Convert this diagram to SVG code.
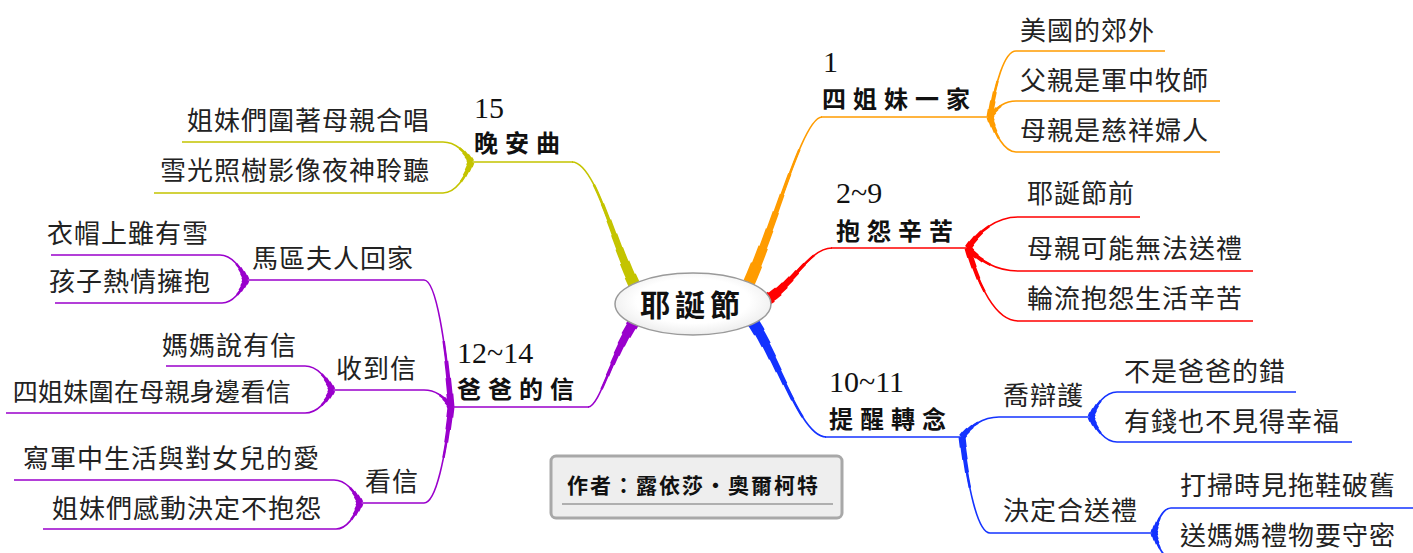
<svg xmlns="http://www.w3.org/2000/svg" xmlns:xlink="http://www.w3.org/1999/xlink" width="1413" height="553" viewBox="0 0 1413 553">
<style>
.sub{font-family:"Noto Sans CJK TC","Noto Sans CJK SC",sans-serif;font-size:26px;fill:#222;letter-spacing:1px}
.num{font-family:"Liberation Serif",serif;font-size:30px;fill:#111}
.ttl{font-family:"Noto Sans CJK TC","Noto Sans CJK SC",sans-serif;font-size:24px;font-weight:700;letter-spacing:7px;fill:#111}
.end{text-anchor:end}
.m1{stroke-width:12;stroke-dasharray:12 200}
.m2{stroke-width:10;stroke-dasharray:22 200}
.m3{stroke-width:8;stroke-dasharray:32 200}
.m4{stroke-width:6.5;stroke-dasharray:42 200}
.m5{stroke-width:5;stroke-dasharray:52 200}
.m6{stroke-width:3.5;stroke-dasharray:64 200}
.m7{stroke-width:2.5;stroke-dasharray:78 200}
.m8{stroke-width:1.6}
.s1{stroke-width:7;stroke-dasharray:10 200}
.s2{stroke-width:5.5;stroke-dasharray:22 200}
.s3{stroke-width:4;stroke-dasharray:35 200}
.s4{stroke-width:2.5;stroke-dasharray:50 200}
.s5{stroke-width:1.6}
.ln{fill:none;stroke-width:1.6}
.o{stroke:#ff9c00}.r{stroke:#ff0000}.b{stroke:#1433ff}.y{stroke:#c4c400}.p{stroke:#9a00cc}
</style>
<defs>
<radialGradient id="eg" cx="50%" cy="45%" r="60%">
<stop offset="0.6" stop-color="#ffffff"/>
<stop offset="1" stop-color="#e8e8e8"/>
</radialGradient>
<g id="mainC" fill="none">
<path pathLength="100" class="o" d="M748,285 C775,225 803,117 822,117"/>
<path pathLength="100" class="r" d="M762,302 C790,290 808,248 832,248"/>
<path pathLength="100" class="b" d="M750,318 C775,350 800,437 826,437"/>
<path pathLength="100" class="y" d="M638,292 C615,250 596,162 572,162"/>
<path pathLength="100" class="p" d="M638,316 C612,352 600,407 588,407"/>
</g>
<g id="subC" fill="none">
<path pathLength="100" class="o" d="M990,117 C995.2,84 1004.3,51 1016,51"/>
<path pathLength="100" class="o" d="M990,117 C995.2,109 1004.3,101 1016,101"/>
<path pathLength="100" class="o" d="M990,117 C995.2,134.5 1004.3,152 1016,152"/>
<path pathLength="100" class="r" d="M968,248 C978,232.5 995.5,217 1018,217"/>
<path pathLength="100" class="r" d="M968,248 C978,259.5 995.5,271 1018,271"/>
<path pathLength="100" class="r" d="M968,248 C978,284.5 995.5,321 1018,321"/>
<path pathLength="100" class="b" d="M962,437 C969.4,427 982.4,417 999,417"/>
<path pathLength="100" class="b" d="M962,437 C967.6,485 977.4,533 990,533"/>
<path pathLength="100" class="b" d="M1091,417 C1096.2,404.5 1105.3,392 1117,392"/>
<path pathLength="100" class="b" d="M1091,417 C1096.2,429.5 1105.3,442 1117,442"/>
<path pathLength="100" class="b" d="M1154,533 C1157.4,520.5 1163.4,508 1171,508"/>
<path pathLength="100" class="b" d="M1154,533 C1157.4,545.5 1163.4,558 1171,558"/>
<path pathLength="100" class="y" d="M471,162 C465.4,152 455.6,142 443,142"/>
<path pathLength="100" class="y" d="M471,162 C465.4,177.5 455.6,193 443,193"/>
<path pathLength="100" class="p" d="M451,407 C445.6,343.5 436.2,280 424,280"/>
<path pathLength="100" class="p" d="M451,407 C445.6,398.5 436.2,390 424,390"/>
<path pathLength="100" class="p" d="M451,407 C445.6,455 436.2,503 424,503"/>
<path pathLength="100" class="p" d="M246,280 C240.8,267.5 231.7,255 220,255"/>
<path pathLength="100" class="p" d="M246,280 C241.2,291.5 232.8,303 222,303"/>
<path pathLength="100" class="p" d="M332,390 C326.6,378 317.2,366 305,366"/>
<path pathLength="100" class="p" d="M332,390 C326.6,401.5 317.2,413 305,413"/>
<path pathLength="100" class="p" d="M360,503 C354.8,491.5 345.7,480 334,480"/>
<path pathLength="100" class="p" d="M360,503 C355.2,516 346.8,529 336,529"/>
</g>
</defs>
<rect width="1413" height="553" fill="#ffffff"/>
<g id="connectors" fill="none">
<use href="#mainC" class="m1"/>
<use href="#mainC" class="m2"/>
<use href="#mainC" class="m3"/>
<use href="#mainC" class="m4"/>
<use href="#mainC" class="m5"/>
<use href="#mainC" class="m6"/>
<use href="#mainC" class="m7"/>
<use href="#mainC" class="m8"/>
<use href="#subC" class="s1"/>
<use href="#subC" class="s2"/>
<use href="#subC" class="s3"/>
<use href="#subC" class="s4"/>
<use href="#subC" class="s5"/>
<path class="ln o" d="M821,117 H990 M1016,51 H1165 M1016,101 H1220 M1016,152 H1220"/>
<path class="ln r" d="M831,248 H968 M1018,217 H1140 M1018,271 H1253 M1018,321 H1253"/>
<path class="ln b" d="M825,437 H962 M999,417 H1091 M990,533 H1154 M1117,392 H1296 M1117,442 H1352 M1171,508 H1413 M1171,558 H1413"/>
<path class="ln y" d="M573,162 H471 M443,142 H182 M443,193 H154"/>
<path class="ln p" d="M589,407 H451 M424,280 H246 M424,390 H332 M424,503 H360 M220,255 H51 M222,303 H55 M305,366 H166 M305,413 H6 M334,480 H14 M336,529 H43"/>
</g>
<g id="root">
<ellipse cx="693" cy="304" rx="78" ry="31" fill="url(#eg)" stroke="#9a9a9a" stroke-width="1.5"/>
<text x="640" y="316" font-family="Noto Sans CJK TC, Noto Sans CJK SC, sans-serif" font-size="30" font-weight="700" letter-spacing="5" fill="#111">耶誕節</text>
</g>
<g id="n-family"><text class="num" x="823" y="72">1</text><text class="ttl" x="822" y="108">四姐妹一家</text></g>
<g id="n-suburb"><text class="sub" x="1020" y="40">美國的郊外</text></g>
<g id="n-father"><text class="sub" x="1020" y="90">父親是軍中牧師</text></g>
<g id="n-mother"><text class="sub" x="1020" y="140">母親是慈祥婦人</text></g>
<g id="n-complain"><text class="num" x="836" y="203">2~9</text><text class="ttl" x="836" y="240">抱怨辛苦</text></g>
<g id="n-before"><text class="sub" x="1027" y="203">耶誕節前</text></g>
<g id="n-nogift"><text class="sub" x="1027" y="258">母親可能無法送禮</text></g>
<g id="n-turns"><text class="sub" x="1027" y="308">輪流抱怨生活辛苦</text></g>
<g id="n-remind"><text class="num" x="829" y="392">10~11</text><text class="ttl" x="829" y="428">提醒轉念</text></g>
<g id="n-jo"><text class="sub" x="1003" y="405">喬辯護</text></g>
<g id="n-notdad"><text class="sub" x="1124" y="381">不是爸爸的錯</text></g>
<g id="n-money"><text class="sub" x="1124" y="431">有錢也不見得幸福</text></g>
<g id="n-decide"><text class="sub" x="1003" y="520">決定合送禮</text></g>
<g id="n-slippers"><text class="sub" x="1180" y="495">打掃時見拖鞋破舊</text></g>
<g id="n-secret"><text class="sub" x="1180" y="545">送媽媽禮物要守密</text></g>
<g id="n-lullaby"><text class="num" x="474" y="118">15</text><text class="ttl" x="474" y="152">晚安曲</text></g>
<g id="n-sing"><text class="sub end" x="430" y="130">姐妹們圍著母親合唱</text></g>
<g id="n-snow"><text class="sub end" x="430" y="180">雪光照樹影像夜神聆聽</text></g>
<g id="n-letter"><text class="num" x="457" y="363">12~14</text><text class="ttl" x="457" y="398">爸爸的信</text></g>
<g id="n-home"><text class="sub" x="252" y="268">馬區夫人回家</text></g>
<g id="n-hat"><text class="sub end" x="209" y="243">衣帽上雖有雪</text></g>
<g id="n-hug"><text class="sub end" x="211" y="291">孩子熱情擁抱</text></g>
<g id="n-receive"><text class="sub" x="336" y="378">收到信</text></g>
<g id="n-momsays"><text class="sub end" x="297" y="355">媽媽說有信</text></g>
<g id="n-gather"><text class="sub end" x="291" y="401" style="font-size:25px;letter-spacing:0.3px">四姐妹圍在母親身邊看信</text></g>
<g id="n-read"><text class="sub" x="365" y="491">看信</text></g>
<g id="n-write"><text class="sub end" x="320" y="468">寫軍中生活與對女兒的愛</text></g>
<g id="n-moved"><text class="sub end" x="322" y="518">姐妹們感動決定不抱怨</text></g>
<g id="author">
<rect x="551" y="456" width="291" height="62" rx="5" fill="#eeeeee" stroke="#a8a8a8" stroke-width="3"/>
<path d="M562,504 H833" stroke="#9a9a9a" stroke-width="1.5" fill="none"/>
<text x="567" y="493" font-family="Noto Sans CJK TC, Noto Sans CJK SC, sans-serif" font-size="21" font-weight="700" letter-spacing="2" fill="#111">作者：露依莎・奧爾柯特</text>
</g>
</svg>
